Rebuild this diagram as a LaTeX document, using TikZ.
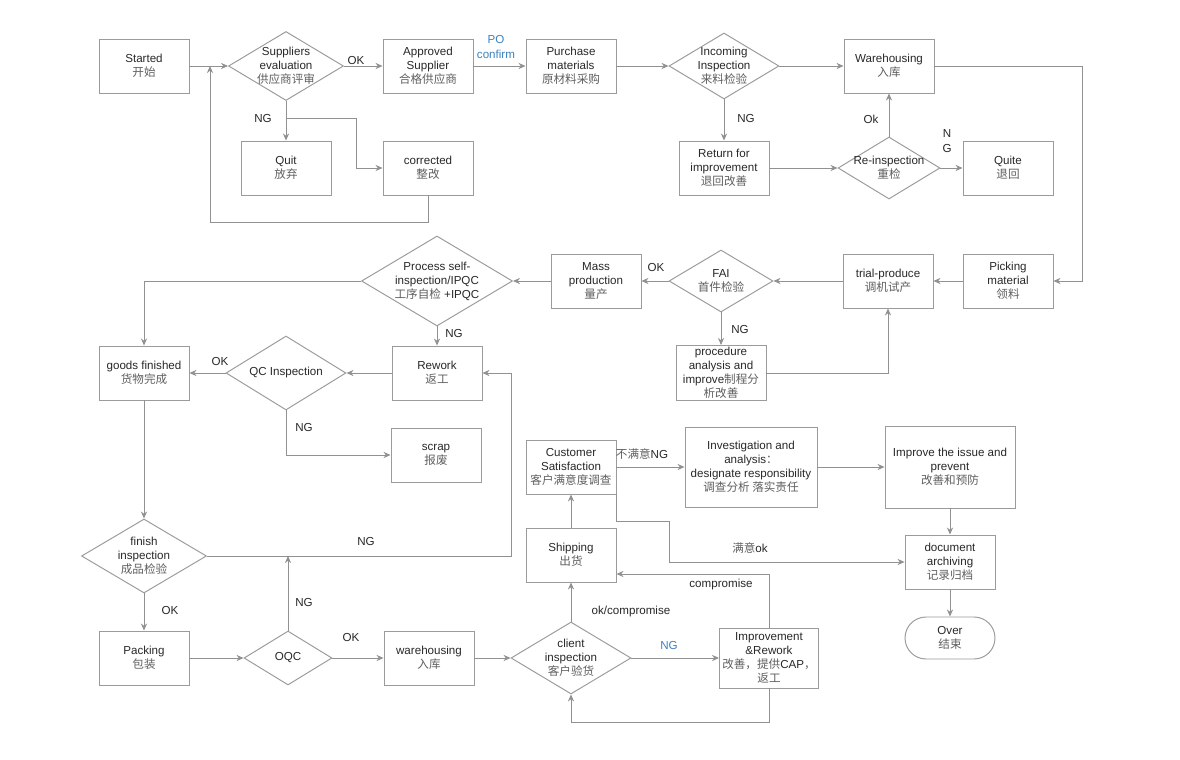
\documentclass[tikz,border=0pt]{standalone}
\usepackage{fontspec}
\setmainfont{Liberation Sans}
\newfontfamily\cjk{Noto Sans CJK SC}
\usetikzlibrary{shapes.geometric,arrows.meta}
\definecolor{bc}{RGB}{155,155,155}
\definecolor{lc}{RGB}{145,145,145}
\definecolor{tc}{RGB}{40,40,40}
\definecolor{zc}{RGB}{95,95,95}
\definecolor{bl}{RGB}{60,130,190}
\newcommand{\dsz}{\fontsize{6.6}{8}\selectfont}
\newcommand{\zhc}[1]{{\cjk\color{zc}#1}}
\tikzset{
 box/.style={draw=bc, fill=white, line width=0.55pt, minimum width=1.8cm, minimum height=1.08cm, inner sep=1pt, align=center, font=\dsz, text=tc},
 dia/.style={draw=bc, fill=white, diamond, inner sep=0pt, line width=0.55pt},
 txt/.style={align=center, font=\dsz, text=tc, inner sep=0pt},
 lbl/.style={font=\dsz, text=tc, inner sep=0pt},
 arr/.style={draw=lc, line width=0.55pt, -{Stealth[length=4pt,width=3.5pt]}},
}
\begin{document}
\begin{tikzpicture}[x=0.02cm,y=-0.02cm]
\fill[white] (0,0) rectangle (1180,760);
\useasboundingbox (0,0) rectangle (1180,760);
% ---- row 1
\node[box] (start) at (144,66) {Started\\\zhc{开始}};
\node[dia, minimum width=2.3cm, minimum height=1.38cm] (sup) at (286,66) {};
\node[txt] (supt) at (sup) {Suppliers\\evaluation\\\zhc{供应商评审}};
\node[box] (appr) at (428,66) {Approved\\Supplier\\\zhc{合格供应商}};
\node[box] (purch) at (571,66) {Purchase\\materials\\\zhc{原材料采购}};
\node[dia, minimum width=2.2cm, minimum height=1.32cm] (inc) at (724,66) {};
\node[txt] (inct) at (inc) {Incoming\\Inspection\\\zhc{来料检验}};
\node[box] (wh1) at (889,66) {Warehousing\\\zhc{入库}};
% ---- row 2
\node[box] (quit) at (286,168) {Quit\\\zhc{放弃}};
\node[box] (corr) at (428,168) {corrected\\\zhc{整改}};
\node[box] (ret) at (724,168) {Return for\\improvement\\\zhc{退回改善}};
\node[dia, minimum width=2.04cm, minimum height=1.24cm] (rein) at (889,168) {};
\node[txt] (reint) at (rein) {Re-inspection\\\zhc{重检}};
\node[box] (quite) at (1008,168) {Quite\\\zhc{退回}};
% ---- row 3
\node[box] (pick) at (1008,281) {Picking\\material\\\zhc{领料}};
\node[box] (trial) at (888,281) {trial-produce\\\zhc{调机试产}};
\node[dia, minimum width=2.08cm, minimum height=1.24cm] (fai) at (721,281) {};
\node[txt] (fait) at (fai) {FAI\\\zhc{首件检验}};
\node[box] (mass) at (596,281) {Mass\\production\\\zhc{量产}};
\node[dia, minimum width=3.02cm, minimum height=1.8cm] (psi) at (437,281) {};
\node[txt] (psit) at (psi) {Process self-\\inspection/IPQC\\\zhc{工序自检} +IPQC};
% ---- row 4
\node[box] (gf) at (144,373) {goods finished\\\zhc{货物完成}};
\node[dia, minimum width=2.4cm, minimum height=1.48cm] (qc) at (286,373) {};
\node[txt] (qct) at (qc) {QC Inspection};
\node[box] (rew) at (437,373) {Rework\\\zhc{返工}};
\node[box] (proc) at (721,373) {procedure\\analysis and\\improve\zhc{制程分}\\\zhc{析改善}};
\node[box] (scrap) at (436,455) {scrap\\\zhc{报废}};
% ---- lower right
\node[box] (cs) at (571,467) {Customer\\Satisfaction\\\zhc{客户满意度调查}};
\node[box, minimum width=2.64cm, minimum height=1.6cm] (inv) at (751,467) {Investigation and\\analysis\zhc{：}\\designate responsibility\\\zhc{调查分析 落实责任}};
\node[box, minimum width=2.6cm, minimum height=1.64cm] (impv) at (950,467) {Improve the issue and\\prevent\\\zhc{改善和预防}};
\node[box] (ship) at (571,555) {Shipping\\\zhc{出货}};
\node[box] (doc) at (950,562) {document\\archiving\\\zhc{记录归档}};
\node[box, minimum height=0.84cm, rounded corners=0.42cm] (over) at (950,638) {Over\\\zhc{结束}};
% ---- bottom row
\node[dia, minimum width=2.5cm, minimum height=1.48cm] (fin) at (144,556) {};
\node[txt] (fint) at (fin) {finish\\inspection\\\zhc{成品检验}};
\node[box] (pack) at (144,658) {Packing\\\zhc{包装}};
\node[dia, minimum width=1.76cm, minimum height=1.08cm] (oqc) at (288,658) {};
\node[txt] (oqct) at (oqc) {OQC};
\node[box] (wh2) at (429,658) {warehousing\\\zhc{入库}};
\node[dia, minimum width=2.4cm, minimum height=1.44cm] (cli) at (571,658) {};
\node[txt] (clit) at (cli) {client\\inspection\\\zhc{客户验货}};
\node[box, minimum width=1.98cm, minimum height=1.2cm] (imp) at (769,658) {Improvement\\\&Rework\\\zhc{改善，提供}CAP\zhc{，}\\\zhc{返工}};
% ---- coordinates
\coordinate (lp) at (210,222);
\coordinate (lj) at (210,66);
\coordinate (ngb) at (286,118);
\coordinate (ngc) at (356,118);
\coordinate (rt) at (1082,281);
\coordinate (f1) at (511,556);
\coordinate (f2) at (288,556);
\coordinate (bq) at (571,722);
\coordinate (m1) at (669,521);
% ---- connectors
\draw[arr] (start) -- (sup);
\draw[arr] (corr.south) |- (lp) -- (lj);
\draw[arr] (sup) -- (appr);
\draw[arr] (appr) -- (purch);
\draw[arr] (purch) -- (inc);
\draw[arr] (inc) -- (wh1);
\draw[arr] (sup) -- (quit);
\draw[arr] (ngb) -- (ngc) |- (corr.west);
\draw[arr] (inc) -- (ret);
\draw[arr] (ret) -- (rein);
\draw[arr] (rein) -- (wh1);
\draw[arr] (rein) -- (quite);
\draw[arr] (wh1.east) -| (rt) -- (pick.east);
\draw[arr] (pick) -- (trial);
\draw[arr] (trial) -- (fai);
\draw[arr] (fai) -- (mass);
\draw[arr] (fai) -- (proc);
\draw[arr] (proc.east) -| (trial.south);
\draw[arr] (mass) -- (psi);
\draw[arr] (psi.west) -| (gf.north);
\draw[arr] (psi) -- (rew);
\draw[arr] (rew) -- (qc);
\draw[arr] (qc) -- (gf);
\draw[arr] (qc.south) |- (scrap.west);
\draw[arr] (gf) -- (fin);
\draw[arr] (fin.east) -- (f1) |- (rew.east);
\draw[arr] (fin) -- (pack);
\draw[arr] (pack) -- (oqc);
\draw[arr] (oqc.north) -- (f2);
\draw[arr] (oqc) -- (wh2);
\draw[arr] (wh2) -- (cli);
\draw[arr] (cli) -- (ship);
\draw[arr] (cli) -- (imp);
\draw[arr] (imp.north) |- ([yshift=-0.38cm]ship.east);
\draw[arr] (imp.south) |- (bq) -- (cli.south);
\draw[arr] (ship) -- (cs);
\draw[arr] (cs) -- (inv);
\draw[arr] (inv) -- (impv);
\draw[arr] (impv) -- (doc);
\draw[arr] (doc) -- (over);
\draw[arr] (cs.south east) |- (m1) |- (doc.west);
% ---- labels
\node[lbl] (l1) at (356,61) {OK};
\node[lbl, text=bl] (l2) at (496,40) {PO};
\node[lbl, text=bl] (l3) at (496,54) {confirm};
\node[lbl] (l4) at (263,119) {NG};
\node[lbl] (l5) at (746,119) {NG};
\node[lbl] (l6) at (871,119) {Ok};
\node[lbl] (l7) at (947,134) {N};
\node[lbl] (l8) at (947,149) {G};
\node[lbl] (l9) at (656,268) {OK};
\node[lbl] (l10) at (740,330) {NG};
\node[lbl] (l11) at (454,334) {NG};
\node[lbl] (l12) at (220,362) {OK};
\node[lbl] (l13) at (304,428) {NG};
\node[lbl] (l14) at (366,542) {NG};
\node[lbl] (l15) at (304,603) {NG};
\node[lbl] (l16) at (170,611) {OK};
\node[lbl] (l17) at (351,638) {OK};
\node[lbl] (l18) at (631,611) {ok/compromise};
\node[lbl] (l19) at (721,584) {compromise};
\node[lbl, text=bl] (l20) at (669,646) {NG};
\node[lbl] (l21) at (642,454) {\zhc{不满意}NG};
\node[lbl] (l22) at (750,548) {\zhc{满意}ok};
\end{tikzpicture}
\end{document}
